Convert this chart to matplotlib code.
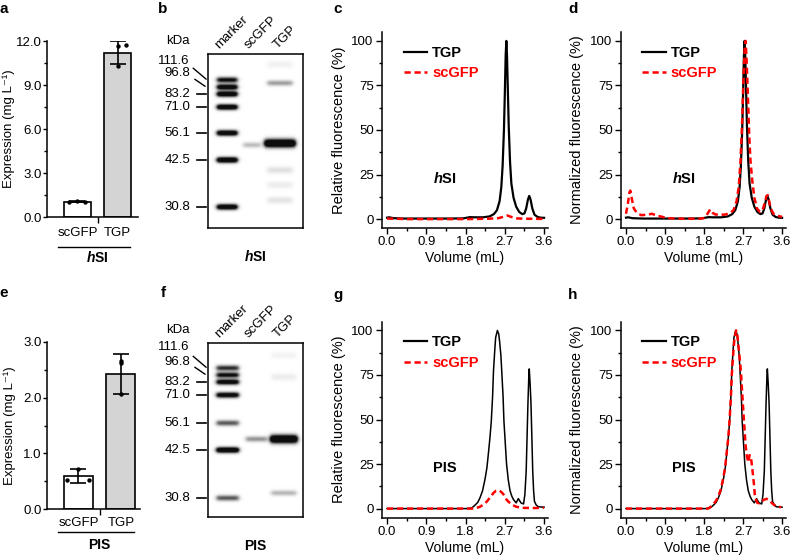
import numpy as np
import matplotlib
matplotlib.use('Agg')
import matplotlib.pyplot as plt
from matplotlib.ticker import MultipleLocator, FormatStrFormatter
from matplotlib.lines import Line2D
from matplotlib.transforms import blended_transform_factory, ScaledTranslation

plt.rcParams['font.family'] = ['Liberation Sans', 'DejaVu Sans']
plt.rcParams['mathtext.fontset'] = 'custom'
plt.rcParams['mathtext.rm'] = 'Liberation Sans'
plt.rcParams['mathtext.it'] = 'Liberation Sans:italic:bold'
plt.rcParams['mathtext.bf'] = 'Liberation Sans:bold'
plt.rcParams['axes.linewidth'] = 1.1

# ---------------- data ----------------
groups = ['scGFP', 'TGP']
hsi_expr_mean = [1.04, 11.2]
hsi_expr_sd = [0.05, 0.8]
hsi_expr_pts = [[1.02, 1.08, 1.02], [11.68, 11.76, 10.30]]
pis_expr_mean = [0.59, 2.42]
pis_expr_sd = [0.13, 0.36]
pis_expr_pts = [[0.52, 0.72, 0.52], [2.66, 2.62, 2.06]]

marker_kda = ['111.6', '96.8', '83.2', '71.0', '56.1', '42.5', '30.8']
lanes = ['marker', 'scGFP', 'TGP']
hsi_marker_pos = [0.149, 0.190, 0.230, 0.305, 0.454, 0.609, 0.879]
hsi_marker_int = [1.1, 1.4, 1.5, 1.5, 1.5, 1.6, 1.5]
pis_marker_pos = [0.144, 0.184, 0.224, 0.299, 0.460, 0.615, 0.891]
pis_marker_int = [0.9, 1.1, 1.3, 1.3, 0.7, 1.6, 0.7]
# (lane, position, intensity)
hsi_sample_bands = [('scGFP', 0.523, 0.28), ('TGP', 0.060, 0.06), ('TGP', 0.167, 0.40),
                    ('TGP', 0.513, 1.80), ('TGP', 0.667, 0.13), ('TGP', 0.753, 0.08),
                    ('TGP', 0.840, 0.11)]
pis_sample_bands = [('scGFP', 0.552, 0.45), ('TGP', 0.070, 0.05), ('TGP', 0.195, 0.08),
                    ('TGP', 0.552, 1.80), ('TGP', 0.862, 0.30)]

hsi_vol_tgp = [0.00, 0.05, 0.15, 0.40, 0.90, 1.40, 1.75, 1.90, 2.00, 2.20, 2.35, 2.45, 2.52,
               2.58, 2.62, 2.65, 2.68, 2.70, 2.72, 2.735, 2.75, 2.77, 2.79, 2.82, 2.85, 2.90,
               2.96, 3.03, 3.10, 3.15, 3.19, 3.23, 3.26, 3.29, 3.33, 3.38, 3.45, 3.52, 3.60]
hsi_tgp = [0.8, 1.0, 0.5, 0.3, 0.3, 0.3, 0.4, 1.1, 1.0, 1.0, 1.5, 2.8, 5,
           10, 18, 30, 50, 70, 92, 100, 92, 72, 52, 32, 20, 12,
           7, 4, 2.8, 3.2, 6, 11, 13, 11, 6, 2.5, 1.2, 0.8, 0.7]
hsi_vol_sc_rel = [0.0, 0.5, 1.0, 1.8, 2.3, 2.55, 2.70, 2.76, 2.85, 2.95, 3.2, 3.6]
hsi_sc_rel = [0.3, 0.0, 0.0, 0.0, 0.2, 0.5, 1.5, 2.0, 1.2, 0.4, 0.2, 0.1]
hsi_vol_sc_norm = [0.00, 0.04, 0.08, 0.10, 0.13, 0.18, 0.25, 0.35, 0.50, 0.60, 0.70, 0.83, 0.95,
                   1.30, 1.70, 1.80, 1.88, 1.94, 2.00, 2.06, 2.20, 2.30, 2.40, 2.48, 2.55, 2.60,
                   2.64, 2.68, 2.71, 2.74, 2.76, 2.78, 2.81, 2.84, 2.87, 2.91, 2.96, 3.02, 3.09,
                   3.15, 3.20, 3.24, 3.27, 3.30, 3.34, 3.40, 3.48, 3.60]
hsi_sc_norm = [3, 8, 15, 16, 12, 6, 3.5, 2.2, 2.5, 3, 2, 1.3, 0.5,
               0.2, 0.2, 0.6, 3, 5.4, 3.5, 2.6, 2.4, 2.6, 3.5, 5, 10, 18,
               32, 55, 80, 97, 100, 90, 70, 48, 33, 22, 12, 6, 4,
               5, 9, 13, 13.4, 10, 6, 3, 2, 1.2]

pis_vol_tgp = [0.0, 1.0, 1.85, 1.95, 2.02, 2.08, 2.13, 2.19, 2.25, 2.29, 2.32, 2.36, 2.39,
               2.42, 2.44, 2.47, 2.49, 2.53, 2.56, 2.58, 2.61, 2.63, 2.66, 2.68, 2.71, 2.74,
               2.78, 2.82, 2.86, 2.90, 2.96, 3.01, 3.07, 3.13, 3.16, 3.19, 3.21, 3.23, 3.25,
               3.26, 3.28, 3.30, 3.32, 3.34, 3.36, 3.38, 3.42, 3.47, 3.60]
pis_tgp = [0, 0, 0, 0.5, 2, 3.5, 6, 10, 17, 23, 30, 40, 49,
           63, 77, 89, 96, 100, 98, 94, 86, 77, 63, 49, 37, 25,
           16, 10, 7, 5, 3.2, 5.6, 3.2, 2.6, 8, 21, 40, 59, 74,
           78.4, 70, 59, 40, 21, 10, 4, 2, 1, 0.8]
pis_vol_sc_rel = [0.0, 1.0, 2.0, 2.13, 2.21, 2.29, 2.37, 2.44, 2.50, 2.56, 2.61, 2.66, 2.70,
                  2.74, 2.80, 2.86, 2.92, 2.97, 3.05, 3.13, 3.40, 3.60]
pis_sc_rel = [0, 0, 0, 1, 2.3, 4, 6.5, 8.8, 10, 10.3, 9.5, 8.3, 6.8,
              5, 3.5, 2.3, 1.5, 1, 0.6, 0.4, 0.3, 0.5]
pis_vol_sc_norm = [0.0, 1.0, 1.90, 1.96, 2.02, 2.08, 2.13, 2.19, 2.25, 2.29, 2.32, 2.36, 2.39,
                   2.42, 2.44, 2.47, 2.50, 2.54, 2.57, 2.59, 2.62, 2.65, 2.68, 2.71, 2.74, 2.76,
                   2.79, 2.82, 2.85, 2.88, 2.91, 2.95, 2.97, 3.00, 3.03, 3.07, 3.11, 3.19, 3.24,
                   3.28, 3.33, 3.36, 3.42, 3.47, 3.52, 3.58]
pis_sc_norm = [0, 0, 0, 1.2, 2.6, 4.5, 7, 11, 18, 24, 31, 40, 50,
               63, 75, 86, 95, 100, 97, 92, 85, 77, 65, 53, 42, 35,
               29, 26, 30, 29, 23, 14, 8, 5, 3.2, 3, 4, 5, 5.5,
               5, 4, 3.2, 2, 1.3, 1.0, 0.8]

# ---------------- layout ----------------
W, H = 790, 559
fig = plt.figure(figsize=(W / 100, H / 100), dpi=100)
FS = 9.5
LFS = 10.5


def add_ax(x0, y0, x1, y1):
    return fig.add_axes([x0 / W, 1 - y1 / H, (x1 - x0) / W, (y1 - y0) / H])


def below(ax, dy_px):
    return blended_transform_factory(ax.transData, ax.transAxes) + \
        ScaledTranslation(0, -dy_px / 100, fig.dpi_scale_trans)


def bar_panel(ax, means, sds, pts, jitter, ymax, ystep, xlim, glabel, d_cat, d_line, d_grp,
              ylab_x):
    x = np.arange(len(groups))
    ax.bar(x, means, width=0.68, color=['white', '#d4d4d4'], edgecolor='black',
           linewidth=1.2, zorder=2)
    ax.errorbar(x, means, yerr=sds, fmt='none', ecolor='black', elinewidth=1.2,
                capsize=5.5, capthick=1.2, zorder=3)
    for xi, p, offs in zip(x, pts, jitter):
        ax.scatter(xi + np.array(offs), p, s=10, color='black', zorder=4, linewidths=0)
    ax.set_xlim(*xlim)
    ax.set_ylim(0, ymax)
    ax.yaxis.set_major_locator(MultipleLocator(ystep))
    ax.yaxis.set_minor_locator(MultipleLocator(ystep / 2))
    ax.yaxis.set_major_formatter(FormatStrFormatter('%.1f'))
    ax.set_xticks([0.5])
    ax.set_xticklabels([''])
    ax.tick_params(axis='x', length=4, width=1)
    ax.tick_params(axis='y', which='major', length=3, width=1, labelsize=FS, pad=1)
    ax.tick_params(axis='y', which='minor', length=2, width=1)
    for s in ['top', 'right']:
        ax.spines[s].set_visible(False)
    ax.set_ylabel('Expression (mg L\u207b\u00b9)', fontsize=FS,
                  family=['Liberation Sans', 'DejaVu Sans'])
    ax.yaxis.set_label_coords(ylab_x, 0.5)
    for xi, g in zip(x, groups):
        ax.text(xi, 0, g, transform=below(ax, d_cat), ha='center', va='center', fontsize=FS)
    ax.plot([-0.49, 1.31], [0, 0], transform=below(ax, d_line), color='black', lw=1,
            clip_on=False)
    ax.text(0.5, 0, glabel, transform=below(ax, d_grp), ha='center', va='center',
            fontsize=FS + 0.5, fontweight='bold')


def render_gel(marker_pos, marker_int, bands, lane_x, lane_hw, main_hw):
    ny, nx = 350, 190
    ys = (np.arange(ny) + 0.5) / ny
    xs = (np.arange(nx) + 0.5) / nx
    img = np.zeros((ny, nx))
    allb = [('marker', p, i) for p, i in zip(marker_pos, marker_int)] + bands
    for lane, pos, inten in allb:
        xc = lane_x[lane]
        hw = main_hw if (lane == 'TGP' and inten > 1) else lane_hw[lane]
        th = 0.016 if (lane == 'TGP' and inten > 1) else 0.011
        if lane == 'TGP' and inten < 0.2:
            th = 0.014
        px = 1 / (1 + np.exp((np.abs(xs - xc) - hw) / 0.012))
        py = np.exp(-0.5 * ((ys - pos) / th) ** 2)
        img += inten * np.outer(py, px)
    return np.clip(img, 0, 1)


def gel_panel(ax, marker_pos, marker_int, bands, lane_x, lane_hw, main_hw, glabel, lab_off):
    img = render_gel(marker_pos, marker_int, bands, lane_x, lane_hw, main_hw)
    ax.imshow(img, cmap='gray_r', vmin=0, vmax=1.05, extent=(0, 1, 1, 0), aspect='auto',
              interpolation='bilinear')
    ax.set_xlim(0, 1)
    ax.set_ylim(1, 0)
    ax.set_xticks([])
    ax.set_yticks([])
    for s in ax.spines.values():
        s.set_linewidth(1.1)
    for i, (lab, pos) in enumerate(zip(marker_kda, marker_pos)):
        if i == 0:
            ax.text(-0.19, pos - lab_off[0], lab, ha='right', va='center', fontsize=FS,
                    clip_on=False)
            ax.plot([-0.155, -0.021], [pos - 0.067, pos - 0.005], color='black', lw=1,
                    clip_on=False)
        elif i == 1:
            ax.text(-0.19, pos - lab_off[1], lab, ha='right', va='center', fontsize=FS,
                    clip_on=False)
            ax.plot([-0.137, -0.032], [pos - 0.044, pos - 0.005], color='black', lw=1,
                    clip_on=False)
        else:
            ax.text(-0.19, pos, lab, ha='right', va='center', fontsize=FS, clip_on=False)
            ax.plot([-0.116, -0.021], [pos, pos], color='black', lw=1.2, clip_on=False)
    ax.text(-0.316, -0.072, 'kDa', ha='center', va='center', fontsize=FS, clip_on=False)
    for ln, lx in zip(lanes, [0.14, 0.45, 0.755]):
        ax.text(lx, -0.017, ln, rotation=45, rotation_mode='anchor',
                ha='left', va='bottom', fontsize=FS, clip_on=False)
    ax.text(0.495, 1.165, glabel, ha='center', va='center', fontsize=FS + 0.5,
            fontweight='bold', clip_on=False)


def chrom_panel(ax, vt, yt, vs, ys, ylabel, tag, lw_black, ylab_x):
    ax.plot(vt, yt, color='black', lw=lw_black, zorder=3)
    ax.plot(vs, ys, color='red', lw=1.8, ls=(0, (2.5, 1.5)), zorder=4)
    ax.set_xlim(-0.115, 3.69)
    ax.set_ylim(-5, 105)
    ax.xaxis.set_minor_locator(MultipleLocator(0.45))
    ax.xaxis.set_major_formatter(FormatStrFormatter('%.1f'))
    ax.set_xticks(np.arange(0, 3.61, 0.9))
    ax.yaxis.set_minor_locator(MultipleLocator(12.5))
    ax.set_yticks([0, 25, 50, 75, 100])
    ax.tick_params(which='major', length=4, width=1, labelsize=FS, pad=2)
    ax.tick_params(which='minor', length=2.5, width=1)
    for s in ['top', 'right']:
        ax.spines[s].set_visible(False)
    ax.set_xlabel('Volume (mL)', fontsize=LFS - 0.5, labelpad=2)
    ax.set_ylabel(ylabel, fontsize=LFS)
    ax.yaxis.set_label_coords(ylab_x, 0.5)
    handles = [Line2D([], [], color='black', lw=1.6),
               Line2D([], [], color='red', lw=1.8, ls=(0, (2.5, 1.5)))]
    leg = ax.legend(handles, ['TGP', 'scGFP'], loc='upper left', bbox_to_anchor=(0.13, 0.93),
                    frameon=False, handlelength=1.6, handletextpad=0.35, labelspacing=0.45,
                    borderpad=0, borderaxespad=0, prop={'weight': 'bold', 'size': FS + 1})
    leg.get_texts()[1].set_color('red')
    ax.text(0.38, 0.255, tag, transform=ax.transAxes, ha='center', va='center',
            fontsize=FS + 1, fontweight='bold')


hsi_tag = r'$\mathit{h}\mathbf{SI}$'

ax_a = add_ax(47, 41, 138, 217)
bar_panel(ax_a, hsi_expr_mean, hsi_expr_sd, hsi_expr_pts,
          [[-0.22, 0.0, 0.2], [0.0, 0.2, 0.0]], 12, 3, (-0.76, 1.51), hsi_tag, 16, 30, 41,
          (15.5 - 47) / 91)
ax_e = add_ax(47, 342, 140, 509)
bar_panel(ax_e, pis_expr_mean, pis_expr_sd, pis_expr_pts,
          [[-0.28, 0.0, 0.24], [0.0, 0.0, 0.0]], 3, 1, (-0.74, 1.45), 'PIS', 14, 23, 36,
          (15.5 - 47) / 93)

ax_b = add_ax(208, 54, 303, 228)
gel_panel(ax_b, hsi_marker_pos, hsi_marker_int, hsi_sample_bands,
          {'marker': 0.2, 'scGFP': 0.458, 'TGP': 0.75},
          {'marker': 0.105, 'scGFP': 0.09, 'TGP': 0.13}, 0.16, hsi_tag, (0.111, 0.082))
ax_f = add_ax(208, 343, 303, 517)
gel_panel(ax_f, pis_marker_pos, pis_marker_int, pis_sample_bands,
          {'marker': 0.205, 'scGFP': 0.505, 'TGP': 0.79},
          {'marker': 0.115, 'scGFP': 0.11, 'TGP': 0.13}, 0.14, 'PIS', (0.122, 0.077))

ax_c = add_ax(382, 32, 548, 228)
chrom_panel(ax_c, hsi_vol_tgp, hsi_tgp, hsi_vol_sc_rel, hsi_sc_rel,
            'Relative fluorescence (%)', hsi_tag, 1.6, -0.215)
ax_d = add_ax(621, 32, 786, 228)
chrom_panel(ax_d, hsi_vol_tgp, hsi_tgp, hsi_vol_sc_norm, hsi_sc_norm,
            'Normalized fluorescence (%)', hsi_tag, 1.6, -0.225)
ax_g = add_ax(382, 321.5, 548, 517.5)
chrom_panel(ax_g, pis_vol_tgp, pis_tgp, pis_vol_sc_rel, pis_sc_rel,
            'Relative fluorescence (%)', 'PIS', 1.1, -0.215)
ax_h = add_ax(621, 321.5, 786, 517.5)
chrom_panel(ax_h, pis_vol_tgp, pis_tgp, pis_vol_sc_norm, pis_sc_norm,
            'Normalized fluorescence (%)', 'PIS', 1.1, -0.225)

for letter, (px, py) in zip('abcdefgh', [(4, 9), (163, 9), (338, 9), (573, 9),
                                         (4, 293), (163, 293), (338, 295), (573, 295)]):
    fig.text(px / W, 1 - py / H, letter, ha='center', va='center', fontsize=11,
             fontweight='bold')

fig.savefig('out.png', dpi=100)
